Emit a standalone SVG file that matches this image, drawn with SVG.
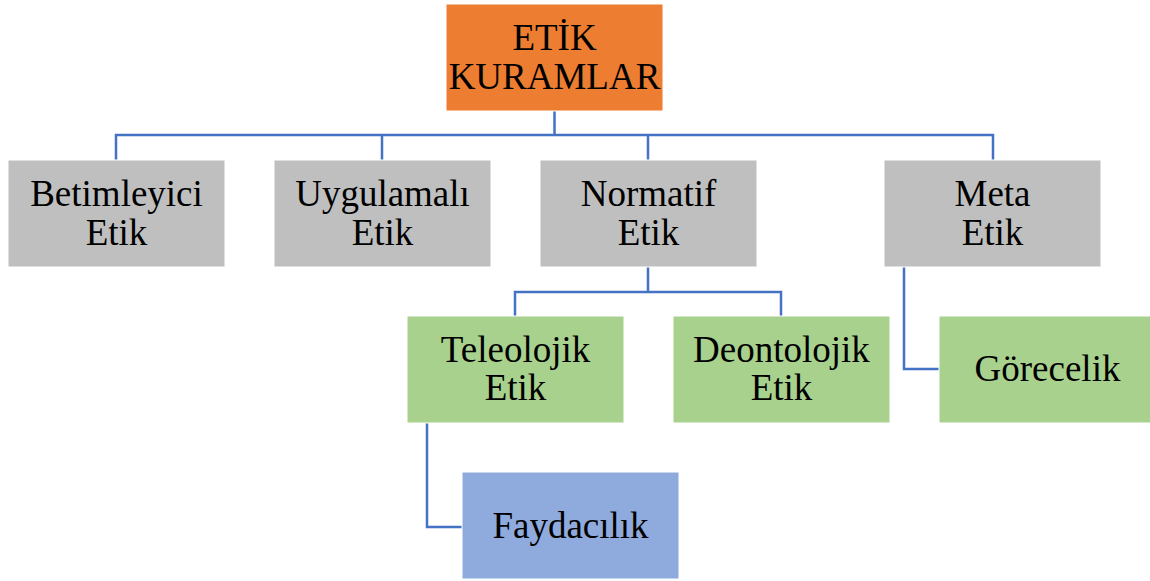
<svg xmlns="http://www.w3.org/2000/svg" width="1150" height="581" viewBox="0 0 1150 581">
<style>
.box{stroke:#ffffff;stroke-width:1}
.t{font-family:'Liberation Serif','Times New Roman',serif;font-size:37px;fill:#000;text-anchor:middle}
.c{fill:none;stroke:#4472C4;stroke-width:2.5}
</style>
<rect width="1150" height="581" fill="#ffffff"/>
<g id="connectors">
<path class="c" d="M554.5 111V135M116 160V135H993V160M382 135V160M648 135V160"/>
<path class="c" d="M648 267V292M515 317V292H781V317"/>
<path class="c" d="M904 267V369H939"/>
<path class="c" d="M427 423V527H462"/>
</g>
<g id="n-root"><rect class="box" x="446" y="4" width="217" height="107" fill="#ED7D31"/><text class="t" x="554.5" y="50">ETİK</text><text class="t" x="554.5" y="89">KURAMLAR</text></g>
<g id="n-betimleyici"><rect class="box" x="8" y="160" width="217" height="107" fill="#BFBFBF"/><text class="t" x="116.5" y="206">Betimleyici</text><text class="t" x="116.5" y="245">Etik</text></g>
<g id="n-uygulamali"><rect class="box" x="274" y="160" width="217" height="107" fill="#BFBFBF"/><text class="t" x="382.5" y="206">Uygulamalı</text><text class="t" x="382.5" y="245">Etik</text></g>
<g id="n-normatif"><rect class="box" x="540" y="160" width="217" height="107" fill="#BFBFBF"/><text class="t" x="648.5" y="206">Normatif</text><text class="t" x="648.5" y="245">Etik</text></g>
<g id="n-meta"><rect class="box" x="884" y="160" width="217" height="107" fill="#BFBFBF"/><text class="t" x="992.5" y="206">Meta</text><text class="t" x="992.5" y="245">Etik</text></g>
<g id="n-teleolojik"><rect class="box" x="407" y="316" width="217" height="107" fill="#A9D18E"/><text class="t" x="515.5" y="362">Teleolojik</text><text class="t" x="515.5" y="400">Etik</text></g>
<g id="n-deontolojik"><rect class="box" x="673" y="316" width="217" height="107" fill="#A9D18E"/><text class="t" x="781.5" y="362">Deontolojik</text><text class="t" x="781.5" y="400">Etik</text></g>
<g id="n-gorecelik"><rect class="box" x="939" y="316" width="217" height="107" fill="#A9D18E"/><text class="t" x="1047.5" y="381">Görecelik</text></g>
<g id="n-faydacilik"><rect class="box" x="462" y="472" width="217" height="107" fill="#8FAADC"/><text class="t" x="570.5" y="538">Faydacılık</text></g>
</svg>
